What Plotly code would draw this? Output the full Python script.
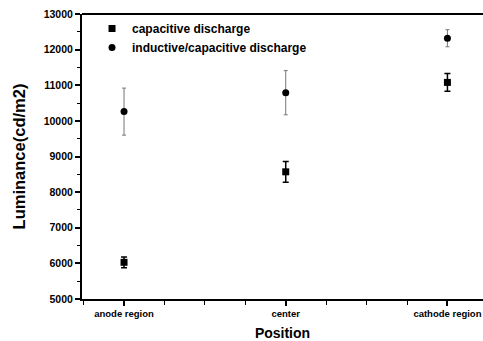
import plotly.graph_objects as go

positions = ["anode region", "center", "cathode region"]
x_pos = [1, 2, 3]
cap_vals = [6030, 8570, 11080]
cap_err = [150, 290, 250]
ind_vals = [10260, 10790, 12320]
ind_err = [660, 620, 240]

fig = go.Figure()
fig.add_trace(go.Scatter(
    x=x_pos, y=cap_vals, mode="markers", name="capacitive discharge",
    marker=dict(symbol="square", size=7, color="black"),
    error_y=dict(type="data", array=cap_err, color="black", thickness=1.5, width=3),
))
fig.add_trace(go.Scatter(
    x=x_pos, y=ind_vals, mode="markers", name="inductive/capacitive discharge",
    marker=dict(symbol="circle", size=7, color="black"),
    error_y=dict(type="data", array=ind_err, color="#777777", thickness=1, width=2),
))

fig.add_shape(type="line", xref="paper", yref="paper", x0=0, x1=1, y0=1, y1=1,
              line=dict(color="black", width=2))

fig.update_layout(
    width=483, height=341,
    margin=dict(l=82, r=0, t=14, b=42),
    paper_bgcolor="white", plot_bgcolor="white",
    font=dict(family="Liberation Sans, Arial, sans-serif", color="black"),
    showlegend=True,
    legend=dict(x=0.025, y=1.0, xanchor="left", yanchor="top",
                bgcolor="rgba(0,0,0,0)", font=dict(size=12, weight="bold"),
                itemsizing="trace", tracegroupgap=0),
    xaxis=dict(
        range=[0.74, 3.22], tickmode="array", tickvals=x_pos, ticktext=positions,
        showgrid=False, zeroline=False, showline=True, linecolor="black", linewidth=2,
        ticks="outside", ticklen=5, tickwidth=1.5, tickcolor="black",
        tickfont=dict(size=9.5, weight="bold"),
        minor=dict(dtick=0.25, tick0=1, ticks="outside", ticklen=4, tickwidth=1, tickcolor="black"),
        title=dict(text="<b>Position</b>", font=dict(size=14), standoff=12),
    ),
    yaxis=dict(
        range=[5000, 13000], dtick=1000, tick0=5000, tickformat="d",
        showgrid=False, zeroline=False, showline=True, linecolor="black", linewidth=2,
        ticks="outside", ticklen=5, tickwidth=1.5, tickcolor="black",
        tickfont=dict(size=10.5, weight="bold"),
        minor=dict(dtick=500, ticks="outside", ticklen=3, tickwidth=1, tickcolor="black"),
        title=dict(text="<b>Luminance(cd/m2)</b>", font=dict(size=16.5), standoff=14),
    ),
)

fig.write_html("out.html")
